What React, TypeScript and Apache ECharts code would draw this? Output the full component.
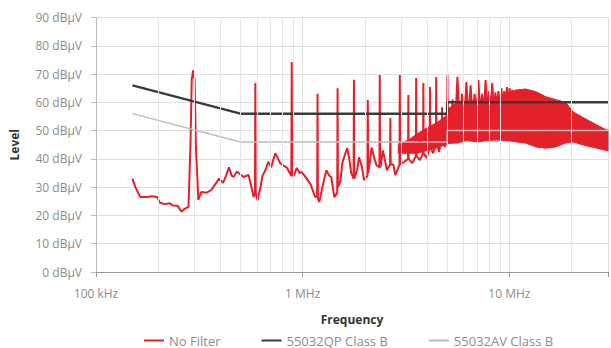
import React, { useEffect, useRef } from "react";
import * as echarts from "echarts";

// Frequency in MHz, level in dBµV
const noFilter: [number, number][] = [
  [0.150, 33], [0.155, 30], [0.1638, 26.5], [0.1768, 26.5], [0.1868, 26.8], [0.1973, 26.5],
  [0.204, 24.5], [0.2154, 24], [0.2276, 24.3], [0.2352, 23.5], [0.2484, 23.4], [0.2594, 21.3],
  [0.268, 22.3], [0.2802, 23], [0.2865, 45], [0.2905, 68], [0.2952, 71.3], [0.300, 68],
  [0.3041, 45], [0.3127, 25.5], [0.3232, 28.3], [0.3415, 28], [0.3607, 29], [0.3771, 31],
  [0.3942, 33], [0.412, 31.5], [0.4255, 34], [0.4396, 37], [0.4541, 34], [0.464, 33.6],
  [0.479, 35.5], [0.4898, 35], [0.5176, 33.6], [0.547, 34.3], [0.565, 30], [0.5785, 26.5],
  [0.5875, 28], [0.590, 66.8], [0.5925, 28], [0.6046, 25.4], [0.6247, 30], [0.6386, 34],
  [0.66, 36], [0.6813, 39], [0.7038, 37], [0.7366, 42], [0.7611, 40], [0.7776, 38.5],
  [0.813, 37.5], [0.8408, 36.8], [0.8646, 35], [0.881, 34], [0.885, 74.3], [0.889, 34],
  [0.9047, 34], [0.9357, 36.8], [0.967, 35], [0.989, 35.3], [1.0227, 34], [1.0573, 32.5],
  [1.093, 31], [1.117, 29], [1.149, 26.5], [1.175, 27], [1.180, 63], [1.185, 26],
  [1.2035, 24.7], [1.245, 30], [1.302, 36], [1.346, 34], [1.375, 33.6], [1.422, 26.5],
  [1.469, 28], [1.475, 65], [1.481, 30], [1.521, 32], [1.555, 38.5], [1.608, 42],
  [1.643, 43.8], [1.68, 40], [1.717, 35], [1.763, 33], [1.770, 68], [1.777, 33],
  [1.833, 36], [1.873, 40.6], [1.937, 37], [1.98, 32.5], [2.057, 34], [2.065, 60.8],
  [2.073, 35], [2.106, 38], [2.153, 44], [2.226, 40], [2.276, 37.8], [2.351, 37],
  [2.360, 69.7], [2.369, 37], [2.389, 38], [2.442, 43], [2.525, 38], [2.553, 36],
  [2.645, 38], [2.655, 54.5], [2.665, 38], [2.745, 38], [2.806, 34.3], [2.94, 38],
  [2.95, 69.7], [2.96, 38], [3.1, 39], [3.234, 40], [3.245, 62.6], [3.256, 40],
  [3.39, 38.5], [3.528, 41], [3.54, 68.6], [3.552, 41], [3.69, 39.6], [3.822, 42],
  [3.835, 66.8], [3.848, 42], [3.98, 40.3], [4.116, 44], [4.13, 65.4], [4.144, 44],
  [4.28, 42], [4.41, 46], [4.425, 69], [4.44, 46], [4.57, 42.4], [4.704, 48],
  [4.72, 58.3], [4.736, 48], [4.87, 44.2], [4.998, 50], [5.015, 69.7], [5.032, 50],
  [5.16, 45.6], [5.31, 61], [5.46, 50], [5.605, 69], [5.75, 52], [5.90, 63],
  [6.05, 53], [6.195, 67.2], [6.34, 54], [6.49, 66], [6.64, 54], [6.785, 63],
  [6.93, 55], [7.08, 67.9], [7.23, 55], [7.375, 63], [7.52, 56], [7.67, 67.9],
  [7.82, 56], [7.965, 64], [8.11, 56], [8.26, 66.8], [8.41, 57], [8.555, 63.5],
  [8.70, 57], [8.85, 64], [9.00, 57], [9.145, 65], [9.29, 58], [9.44, 64],
  [9.59, 58], [9.735, 65.4], [9.88, 58], [10.03, 65], [10.18, 59], [10.325, 64.5],
  [10.47, 60],
];

// Dense emission band (lower and upper envelope)
const bandFreq = [2.9, 3.3, 3.6, 4.0, 4.5, 4.9, 5.1, 5.6, 6.2, 7.0, 7.8, 8.7, 9.5, 10.2, 10.8, 12.0, 13.5, 15.0, 16.7, 18.7, 20.4, 22.5, 24.0, 26.5, 30.0];
const bandLow = [42, 42, 42, 43, 44, 45, 45.5, 45.6, 46.5, 46, 46.5, 46.7, 46.5, 46.3, 46, 45.6, 44.2, 43.8, 44.2, 45.6, 46, 45, 44.5, 43.8, 42.8];
const bandHigh = [45, 47, 49, 51, 53, 55, 58, 59.8, 60.3, 61, 61.5, 62, 63, 63.7, 64.4, 64.7, 63.7, 62, 61, 60, 56.6, 54.8, 53.7, 52, 50];

const qpLimit: [number, number][] = [[0.15, 66], [0.5, 56], [5, 56], [5, 60], [30, 60]];
const avLimit: [number, number][] = [[0.15, 56], [0.5, 46], [5, 46], [5, 50], [30, 50]];

const minorGridFreqs = [0.2, 0.3, 0.4, 0.5, 0.6, 0.7, 0.8, 0.9, 2, 3, 4, 5, 6, 7, 8, 9, 20];
const seriesNames = ["No Filter", "55032QP Class B", "55032AV Class B"];

const RED = "#e4202a";
const FONT = "'Open Sans', 'Noto Sans', sans-serif";

export default function App() {
  const ref = useRef<HTMLDivElement>(null);
  useEffect(() => {
    if (!ref.current) return;
    const chart = echarts.init(ref.current, undefined, { renderer: "svg" });
    const near = (a: number, b: number) => Math.abs(a - b) < b * 1e-6;
    const bandData = bandFreq.map((f, i) => [f, bandLow[i], bandHigh[i]]);
    chart.setOption({
      animation: false,
      textStyle: { fontFamily: FONT },
      grid: { left: 93, right: -2, top: 17.5, bottom: 76, containLabel: false },
      legend: {
        data: seriesNames,
        top: 329,
        left: 138,
        itemGap: 40,
        itemWidth: 20,
        itemHeight: 10,
        itemStyle: { color: "transparent", borderWidth: 0, opacity: 0 },
        textStyle: { color: "#8c8c8c", fontSize: 13, fontFamily: FONT },
      },
      xAxis: {
        type: "log",
        logBase: 10,
        min: 0.1,
        max: 30,
        name: "Frequency",
        nameLocation: "middle",
        nameGap: 41,
        nameTextStyle: { color: "#333", fontWeight: "bold", fontSize: 12, fontFamily: FONT },
        axisLine: { show: true, lineStyle: { color: "#9a9a9a", width: 1 } },
        axisTick: { show: true, length: 5, lineStyle: { color: "#9a9a9a" } },
        axisLabel: {
          color: "#8c8c8c",
          fontSize: 12,
          margin: 15,
          formatter: (v: number) =>
            near(v, 0.1) ? "100 kHz" : near(v, 1) ? "1 MHz" : near(v, 10) ? "10 MHz" : "",
        },
        splitLine: { show: true, lineStyle: { color: "#dedede", width: 1 } },
      },
      yAxis: {
        type: "value",
        min: 0,
        max: 90,
        interval: 10,
        name: "Level",
        nameLocation: "middle",
        nameRotate: 90,
        nameGap: 76,
        nameTextStyle: { color: "#333", fontWeight: "bold", fontSize: 12, fontFamily: FONT },
        axisLine: { show: true, lineStyle: { color: "#bdbdbd" } },
        axisTick: { show: true, length: 5, lineStyle: { color: "#bdbdbd" } },
        axisLabel: { color: "#8c8c8c", fontSize: 12, margin: 14, formatter: "{value} dBµV" },
        splitLine: { show: true, lineStyle: { color: "#e0e0e0", width: 1 } },
      },
      series: [
        {
          name: "grid-minor",
          type: "line",
          data: [],
          z: 1,
          silent: true,
          markLine: {
            silent: true,
            symbol: "none",
            label: { show: false },
            lineStyle: { color: "#e6e6e6", width: 1, type: "solid" },
            data: minorGridFreqs.map((f) => ({ xAxis: f })),
          },
        },
        {
          name: "band",
          type: "custom",
          z: 2,
          silent: true,
          data: bandData,
          encode: { x: 0, y: [1, 2] },
          renderItem: (params: any, api: any) => {
            if (params.dataIndex !== 0) return null;
            const upper = bandData.map((d) => api.coord([d[0], d[2]]));
            const lower = bandData.map((d) => api.coord([d[0], d[1]])).reverse();
            return {
              type: "polygon",
              shape: { points: upper.concat(lower) },
              style: { fill: RED, stroke: RED, lineWidth: 1 },
            };
          },
        },
        {
          name: "No Filter",
          type: "line",
          symbol: "none",
          z: 3,
          color: RED,
          lineStyle: { color: RED, width: 2 },
          data: noFilter,
        },
        {
          name: "55032QP Class B",
          type: "line",
          symbol: "none",
          z: 4,
          color: "#3a3a3a",
          lineStyle: { color: "#3a3a3a", width: 2.5 },
          data: qpLimit,
        },
        {
          name: "55032AV Class B",
          type: "line",
          symbol: "none",
          z: 4,
          color: "#bdbdbd",
          lineStyle: { color: "#bdbdbd", width: 1.5 },
          data: avLimit,
        },
      ],
    });
    return () => chart.dispose();
  }, []);
  return (
    <div
      ref={ref}
      style={{ position: "fixed", left: 0, top: 0, width: 611, height: 348, background: "#fff" }}
    />
  );
}
